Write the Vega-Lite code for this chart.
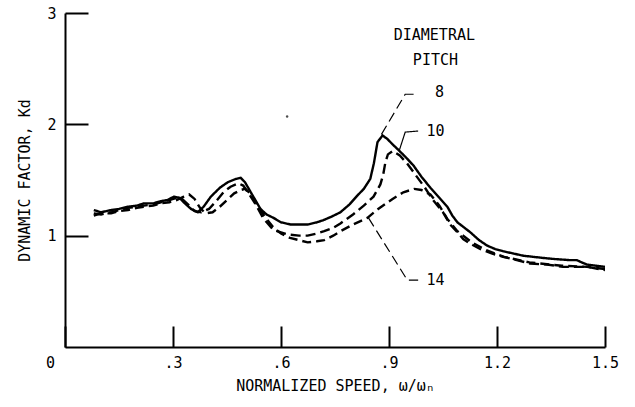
{
  "$schema": "https://vega.github.io/schema/vega-lite/v6.json",
  "autosize": "none",
  "width": 540,
  "height": 334,
  "padding": {"left": 65, "top": 13, "right": 30, "bottom": 60},
  "background": "white",
  "config": {
    "view": {"stroke": null},
    "font": "DejaVu Sans Mono, monospace",
    "axis": {
      "domainColor": "black", "domainWidth": 2, "tickColor": "black", "tickWidth": 2,
      "labelColor": "black", "titleColor": "black", "labelFontSize": 15, "titleFontSize": 15,
      "titleFontWeight": "normal", "grid": false
    }
  },
  "datasets": {
    "curves": [
      {"pitch":"8","x":0.080,"y":1.23},{"pitch":"8","x":0.10,"y":1.21},{"pitch":"8","x":0.128,"y":1.23},{"pitch":"8","x":0.15,"y":1.24},{"pitch":"8","x":0.175,"y":1.26},{"pitch":"8","x":0.20,"y":1.27},{"pitch":"8","x":0.219,"y":1.29},{"pitch":"8","x":0.245,"y":1.29},{"pitch":"8","x":0.266,"y":1.31},{"pitch":"8","x":0.285,"y":1.32},{"pitch":"8","x":0.302,"y":1.35},{"pitch":"8","x":0.318,"y":1.34},{"pitch":"8","x":0.333,"y":1.29},{"pitch":"8","x":0.35,"y":1.24},{"pitch":"8","x":0.369,"y":1.21},{"pitch":"8","x":0.385,"y":1.26},{"pitch":"8","x":0.405,"y":1.35},{"pitch":"8","x":0.43,"y":1.43},{"pitch":"8","x":0.452,"y":1.48},{"pitch":"8","x":0.475,"y":1.51},{"pitch":"8","x":0.488,"y":1.52},{"pitch":"8","x":0.50,"y":1.48},{"pitch":"8","x":0.516,"y":1.39},{"pitch":"8","x":0.543,"y":1.24},{"pitch":"8","x":0.56,"y":1.19},{"pitch":"8","x":0.579,"y":1.16},{"pitch":"8","x":0.60,"y":1.12},{"pitch":"8","x":0.627,"y":1.10},{"pitch":"8","x":0.65,"y":1.10},{"pitch":"8","x":0.674,"y":1.10},{"pitch":"8","x":0.70,"y":1.12},{"pitch":"8","x":0.718,"y":1.14},{"pitch":"8","x":0.74,"y":1.17},{"pitch":"8","x":0.765,"y":1.21},{"pitch":"8","x":0.79,"y":1.28},{"pitch":"8","x":0.812,"y":1.36},{"pitch":"8","x":0.83,"y":1.42},{"pitch":"8","x":0.848,"y":1.51},{"pitch":"8","x":0.858,"y":1.65},{"pitch":"8","x":0.868,"y":1.84},{"pitch":"8","x":0.882,"y":1.90},{"pitch":"8","x":0.895,"y":1.87},{"pitch":"8","x":0.91,"y":1.82},{"pitch":"8","x":0.923,"y":1.78},{"pitch":"8","x":0.945,"y":1.71},{"pitch":"8","x":0.968,"y":1.63},{"pitch":"8","x":0.99,"y":1.53},{"pitch":"8","x":1.015,"y":1.43},{"pitch":"8","x":1.04,"y":1.34},{"pitch":"8","x":1.062,"y":1.26},{"pitch":"8","x":1.076,"y":1.18},{"pitch":"8","x":1.09,"y":1.12},{"pitch":"8","x":1.106,"y":1.08},{"pitch":"8","x":1.126,"y":1.03},{"pitch":"8","x":1.15,"y":0.96},{"pitch":"8","x":1.173,"y":0.91},{"pitch":"8","x":1.195,"y":0.88},{"pitch":"8","x":1.217,"y":0.86},{"pitch":"8","x":1.245,"y":0.84},{"pitch":"8","x":1.273,"y":0.82},{"pitch":"8","x":1.30,"y":0.81},{"pitch":"8","x":1.328,"y":0.80},{"pitch":"8","x":1.36,"y":0.79},{"pitch":"8","x":1.403,"y":0.78},{"pitch":"8","x":1.422,"y":0.78},{"pitch":"8","x":1.435,"y":0.76},{"pitch":"8","x":1.45,"y":0.74},{"pitch":"8","x":1.475,"y":0.73},{"pitch":"8","x":1.50,"y":0.72},
      {"pitch":"10","x":0.080,"y":1.20},{"pitch":"10","x":0.10,"y":1.19},{"pitch":"10","x":0.128,"y":1.21},{"pitch":"10","x":0.15,"y":1.23},{"pitch":"10","x":0.175,"y":1.25},{"pitch":"10","x":0.20,"y":1.26},{"pitch":"10","x":0.219,"y":1.27},{"pitch":"10","x":0.245,"y":1.28},{"pitch":"10","x":0.266,"y":1.30},{"pitch":"10","x":0.29,"y":1.32},{"pitch":"10","x":0.31,"y":1.34},{"pitch":"10","x":0.325,"y":1.33},{"pitch":"10","x":0.345,"y":1.27},{"pitch":"10","x":0.36,"y":1.22},{"pitch":"10","x":0.378,"y":1.21},{"pitch":"10","x":0.40,"y":1.24},{"pitch":"10","x":0.42,"y":1.31},{"pitch":"10","x":0.44,"y":1.39},{"pitch":"10","x":0.46,"y":1.44},{"pitch":"10","x":0.482,"y":1.47},{"pitch":"10","x":0.495,"y":1.45},{"pitch":"10","x":0.51,"y":1.38},{"pitch":"10","x":0.53,"y":1.28},{"pitch":"10","x":0.55,"y":1.16},{"pitch":"10","x":0.579,"y":1.05},{"pitch":"10","x":0.60,"y":1.03},{"pitch":"10","x":0.62,"y":1.01},{"pitch":"10","x":0.65,"y":1.00},{"pitch":"10","x":0.674,"y":1.00},{"pitch":"10","x":0.70,"y":1.02},{"pitch":"10","x":0.72,"y":1.04},{"pitch":"10","x":0.745,"y":1.07},{"pitch":"10","x":0.765,"y":1.11},{"pitch":"10","x":0.80,"y":1.19},{"pitch":"10","x":0.83,"y":1.27},{"pitch":"10","x":0.857,"y":1.35},{"pitch":"10","x":0.876,"y":1.46},{"pitch":"10","x":0.884,"y":1.55},{"pitch":"10","x":0.89,"y":1.66},{"pitch":"10","x":0.897,"y":1.73},{"pitch":"10","x":0.91,"y":1.76},{"pitch":"10","x":0.93,"y":1.72},{"pitch":"10","x":0.95,"y":1.65},{"pitch":"10","x":0.975,"y":1.54},{"pitch":"10","x":1.0,"y":1.43},{"pitch":"10","x":1.02,"y":1.33},{"pitch":"10","x":1.05,"y":1.21},{"pitch":"10","x":1.07,"y":1.10},{"pitch":"10","x":1.09,"y":1.03},{"pitch":"10","x":1.106,"y":0.97},{"pitch":"10","x":1.13,"y":0.92},{"pitch":"10","x":1.153,"y":0.88},{"pitch":"10","x":1.185,"y":0.84},{"pitch":"10","x":1.217,"y":0.81},{"pitch":"10","x":1.255,"y":0.78},{"pitch":"10","x":1.292,"y":0.75},{"pitch":"10","x":1.34,"y":0.74},{"pitch":"10","x":1.383,"y":0.72},{"pitch":"10","x":1.45,"y":0.72},{"pitch":"10","x":1.5,"y":0.69},
      {"pitch":"14","x":0.080,"y":1.18},{"pitch":"14","x":0.10,"y":1.20},{"pitch":"14","x":0.128,"y":1.20},{"pitch":"14","x":0.15,"y":1.22},{"pitch":"14","x":0.175,"y":1.23},{"pitch":"14","x":0.20,"y":1.25},{"pitch":"14","x":0.22,"y":1.26},{"pitch":"14","x":0.245,"y":1.27},{"pitch":"14","x":0.266,"y":1.29},{"pitch":"14","x":0.29,"y":1.30},{"pitch":"14","x":0.31,"y":1.32},{"pitch":"14","x":0.33,"y":1.35},{"pitch":"14","x":0.345,"y":1.37},{"pitch":"14","x":0.36,"y":1.33},{"pitch":"14","x":0.375,"y":1.25},{"pitch":"14","x":0.39,"y":1.20},{"pitch":"14","x":0.41,"y":1.21},{"pitch":"14","x":0.43,"y":1.26},{"pitch":"14","x":0.45,"y":1.32},{"pitch":"14","x":0.47,"y":1.38},{"pitch":"14","x":0.488,"y":1.41},{"pitch":"14","x":0.50,"y":1.42},{"pitch":"14","x":0.515,"y":1.38},{"pitch":"14","x":0.535,"y":1.27},{"pitch":"14","x":0.555,"y":1.17},{"pitch":"14","x":0.58,"y":1.07},{"pitch":"14","x":0.60,"y":1.02},{"pitch":"14","x":0.625,"y":0.98},{"pitch":"14","x":0.65,"y":0.96},{"pitch":"14","x":0.674,"y":0.94},{"pitch":"14","x":0.70,"y":0.95},{"pitch":"14","x":0.72,"y":0.96},{"pitch":"14","x":0.745,"y":1.00},{"pitch":"14","x":0.765,"y":1.04},{"pitch":"14","x":0.80,"y":1.10},{"pitch":"14","x":0.84,"y":1.16},{"pitch":"14","x":0.87,"y":1.24},{"pitch":"14","x":0.91,"y":1.33},{"pitch":"14","x":0.94,"y":1.39},{"pitch":"14","x":0.97,"y":1.42},{"pitch":"14","x":0.99,"y":1.41},{"pitch":"14","x":1.015,"y":1.37},{"pitch":"14","x":1.04,"y":1.27},{"pitch":"14","x":1.062,"y":1.15},{"pitch":"14","x":1.09,"y":1.04},{"pitch":"14","x":1.13,"y":0.94},{"pitch":"14","x":1.17,"y":0.87},{"pitch":"14","x":1.22,"y":0.81},{"pitch":"14","x":1.29,"y":0.76},{"pitch":"14","x":1.38,"y":0.73},{"pitch":"14","x":1.45,"y":0.72},{"pitch":"14","x":1.5,"y":0.70}
    ],
    "leaders": [
      {"id":"8","style":"dashed","order":1,"x":0.879,"y":1.91},{"id":"8","style":"dashed","order":2,"x":0.945,"y":2.27},{"id":"8","style":"dashed","order":3,"x":0.979,"y":2.27},
      {"id":"10","style":"solid","order":1,"x":0.929,"y":1.77},{"id":"10","style":"solid","order":2,"x":0.945,"y":1.93},{"id":"10","style":"solid","order":3,"x":0.981,"y":1.94},
      {"id":"14","style":"dashed","order":1,"x":0.843,"y":1.16},{"id":"14","style":"dashed","order":2,"x":0.951,"y":0.60},{"id":"14","style":"dashed","order":3,"x":0.981,"y":0.60}
    ],
    "labels": [
      {"text":"DIAMETRAL","x":1.026,"y":2.80},
      {"text":"PITCH","x":1.029,"y":2.58},
      {"text":"8","x":1.040,"y":2.29},
      {"text":"10","x":1.029,"y":1.94},
      {"text":"14","x":1.029,"y":0.60}
    ],
    "specks": [{"x":0.617,"y":2.07}]
  },
  "layer": [
    {
      "data": {"name": "curves"},
      "mark": {"type": "line", "color": "black", "strokeWidth": 2.4, "clip": true},
      "encoding": {
        "x": {"field": "x", "type": "quantitative",
          "scale": {"domain": [0, 1.5], "nice": false, "zero": false},
          "axis": {
            "title": "NORMALIZED SPEED, ω/ωₙ",
            "values": [0, 0.3, 0.6, 0.9, 1.2, 1.5],
            "labelExpr": "datum.value == 0 ? '0' : replace(format(datum.value, '.1f'), /^0\\./, '.')",
            "tickSize": -21,
            "labelPadding": 29,
            "labelOffset": {"condition": {"test": "datum.value == 0", "value": -15}, "value": 0},
            "labelFlush": false,
            "labelOverlap": false,
            "titlePadding": 8
          }
        },
        "y": {"field": "y", "type": "quantitative",
          "scale": {"domain": [0, 3], "nice": false},
          "axis": {
            "title": "DYNAMIC FACTOR, Kd",
            "values": [1, 2, 3],
            "format": "d",
            "tickSize": -23,
            "labelPadding": 32,
            "titlePadding": 14
          }
        },
        "detail": {"field": "pitch"},
        "strokeDash": {"field": "pitch", "type": "nominal",
          "scale": {"domain": ["8", "10", "14"], "range": [[1, 0], [10, 5], [9, 5]]},
          "legend": null}
      }
    },
    {
      "data": {"name": "leaders"},
      "mark": {"type": "line", "color": "black", "strokeWidth": 1.2},
      "encoding": {
        "x": {"field": "x", "type": "quantitative"},
        "y": {"field": "y", "type": "quantitative"},
        "order": {"field": "order"},
        "detail": {"field": "id"},
        "strokeDash": {"field": "style", "type": "nominal",
          "scale": {"domain": ["solid", "dashed"], "range": [[1, 0], [7, 5]]},
          "legend": null}
      }
    },
    {
      "data": {"name": "labels"},
      "mark": {"type": "text", "color": "black", "fontSize": 15, "align": "center", "baseline": "middle"},
      "encoding": {
        "x": {"field": "x", "type": "quantitative"},
        "y": {"field": "y", "type": "quantitative"},
        "text": {"field": "text"}
      }
    },
    {
      "data": {"name": "specks"},
      "mark": {"type": "point", "filled": true, "color": "black", "size": 6},
      "encoding": {
        "x": {"field": "x", "type": "quantitative"},
        "y": {"field": "y", "type": "quantitative"}
      }
    }
  ]
}
